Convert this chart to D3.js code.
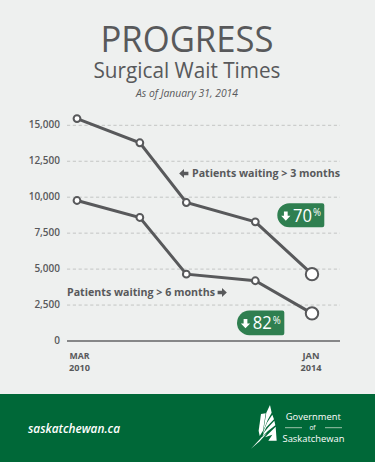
<!DOCTYPE html>
<html><head><meta charset="utf-8">
<script src="https://cdnjs.cloudflare.com/ajax/libs/d3/7.8.5/d3.min.js"></script>
<style>html,body{margin:0;padding:0;background:#eef0ef}svg{display:block}text{font-family:"Open Sans",sans-serif}</style>
</head><body><svg id="c" width="375" height="462"></svg>
<script>
const monthsSinceStart=[0,12.3,21.4,34.9,46];
const over3Months=[15465,13785,9630,8285,4650];
const over6Months=[9770,8590,4650,4190,1920];
const yTicks=[0,2500,5000,7500,10000,12500,15000];
const startLabel=["MAR","2010"], endLabel=["JAN","2014"];
const svg=d3.select("#c");
const grey="#58595b", green="#006838", badge="#2f7f50";
const x=d3.scaleLinear().domain([0,46]).range([77,312]);
const y=d3.scaleLinear().domain([0,15000]).range([341,125.3]);
svg.append("rect").attr("width",375).attr("height",462).attr("fill","#eef0ef");
function txt(s,px,py,size,o={}){
  const t=svg.append("text").attr("x",px).attr("y",py).attr("font-size",size)
   .attr("fill",o.fill||grey).attr("text-anchor",o.anchor||"start").attr("font-weight",o.weight||400)
   .attr("font-style",o.style||"normal").text(s);
  if(o.len)t.attr("textLength",o.len).attr("lengthAdjust","spacingAndGlyphs");
  return t;
}
txt("PROGRESS",187,51.5,37,{anchor:"middle",len:173,weight:500});
txt("Surgical Wait Times",187,78,21,{anchor:"middle",len:187,weight:500});
txt("As of January 31, 2014",187,97,10.5,{anchor:"middle",style:"italic",len:102,weight:500});
const ax=svg.append("g").attr("transform","translate(67,0)")
 .call(d3.axisLeft(y).tickValues(yTicks).tickSize(0).tickPadding(7).tickFormat(d3.format(",")));
ax.select(".domain").remove();
ax.selectAll("text").attr("font-size",10).attr("font-weight",600).attr("fill",grey).attr("font-family",'"Open Sans",sans-serif').attr("dy","0.2em");
svg.append("g").selectAll("line").data(yTicks).join("line")
 .attr("x1",67).attr("x2",340).attr("y1",d=>y(d)).attr("y2",d=>y(d))
 .attr("stroke",d=>d?"#c3c5c4":"#636466").attr("stroke-width",d=>d?1:1.5).attr("stroke-dasharray",d=>d?"3.2 2.6":null);
const line=d3.line().x((d,i)=>x(monthsSinceStart[i])).y(d=>y(d));
[over3Months,over6Months].forEach(s=>{
  svg.append("path").attr("d",line(s)).attr("fill","none").attr("stroke",grey).attr("stroke-width",3);
  svg.append("g").selectAll("circle").data(s).join("circle")
   .attr("cx",(d,i)=>x(monthsSinceStart[i])).attr("cy",d=>y(d))
   .attr("r",(d,i)=>i==s.length-1?6.2:3.4)
   .attr("fill","#fff").attr("stroke",grey).attr("stroke-width",2);
});
function arrow(cx,cy,rot,fill=grey,k=1){
  svg.append("path").attr("d","M0,-4.4L-4.2,0L-1.7,0L-1.7,4L1.7,4L1.7,0L4.2,0Z").attr("fill",fill)
   .attr("transform",`translate(${cx},${cy}) rotate(${rot}) scale(${k})`);
}
arrow(184,173.5,-90,grey,1.1);
txt("Patients waiting > 3 months",192,177,10.5,{weight:700,len:148});
txt("Patients waiting > 6 months",67,295.5,10.5,{weight:700,len:148});
arrow(222,292.5,90,grey,1.1);
function pill(px,py,w,h,num,numX,base,pctBase){
  svg.append("path").attr("fill",badge)
   .attr("d",`M${px+h/2},${py}H${px+w-2}a2,2 0 0 1 2,2V${py+h-2}a2,2 0 0 1 -2,2H${px+h/2}a${h/2},${h/2} 0 0 1 0,${-h}Z`);
  arrow(px+8.5,py+h/2+.5,180,"#fff",1.1);
  txt(num,numX,base,18,{fill:"#fff",len:19});
  txt("%",numX+20,pctBase,10,{fill:"#fff",len:8});
}
pill(277.3,203.3,47,24,"70",293,222,216);
pill(237,310.6,47.3,24.6,"82",252.7,329.3,324);
[[79.5,startLabel],[311,endLabel]].forEach(([px,l])=>{
  txt(l[0],px,359,9.5,{anchor:"middle",weight:700,len:l[0]=="MAR"?20:17});
  txt(l[1],px,371,9.5,{anchor:"middle",weight:700,len:21});
});
svg.append("rect").attr("y",394).attr("width",375).attr("height",68).attr("fill",green);
txt("saskatchewan.ca",28,432.7,12,{fill:"#fff",style:"italic",weight:600,len:92});
const logo=svg.append("g").attr("fill","#fff").attr("transform","translate(245,400) scale(0.3333)");
["M48,42L62,40L54,92L44,108L41,92Z",
 "M64,38L75,15L80,38L68,60L55,92Z",
 "M82,44L87,58L64,82L54,102L56,92L66,68Z",
 "M88,62L91,76L68,94L52,110L58,96L70,82Z",
 "M92,80L95,122L70,122L82,104L60,112Z",
 "M18,146L50,112L66,100L44,124Z"].forEach(d=>logo.append("path").attr("d",d));
const w={fill:"#fff",anchor:"middle"};
txt("Government",313.3,419.5,9.5,{...w,len:55});
txt("of",312.5,430,6.5,w);
txt("Saskatchewan",313.5,442,9.5,{...w,len:62});
[[285,302],[325,342]].forEach(([a,b])=>svg.append("line").attr("x1",a).attr("x2",b).attr("y1",427.7).attr("y2",427.7).attr("stroke","#9cc3ab").attr("stroke-width",1));
</script></body></html>
